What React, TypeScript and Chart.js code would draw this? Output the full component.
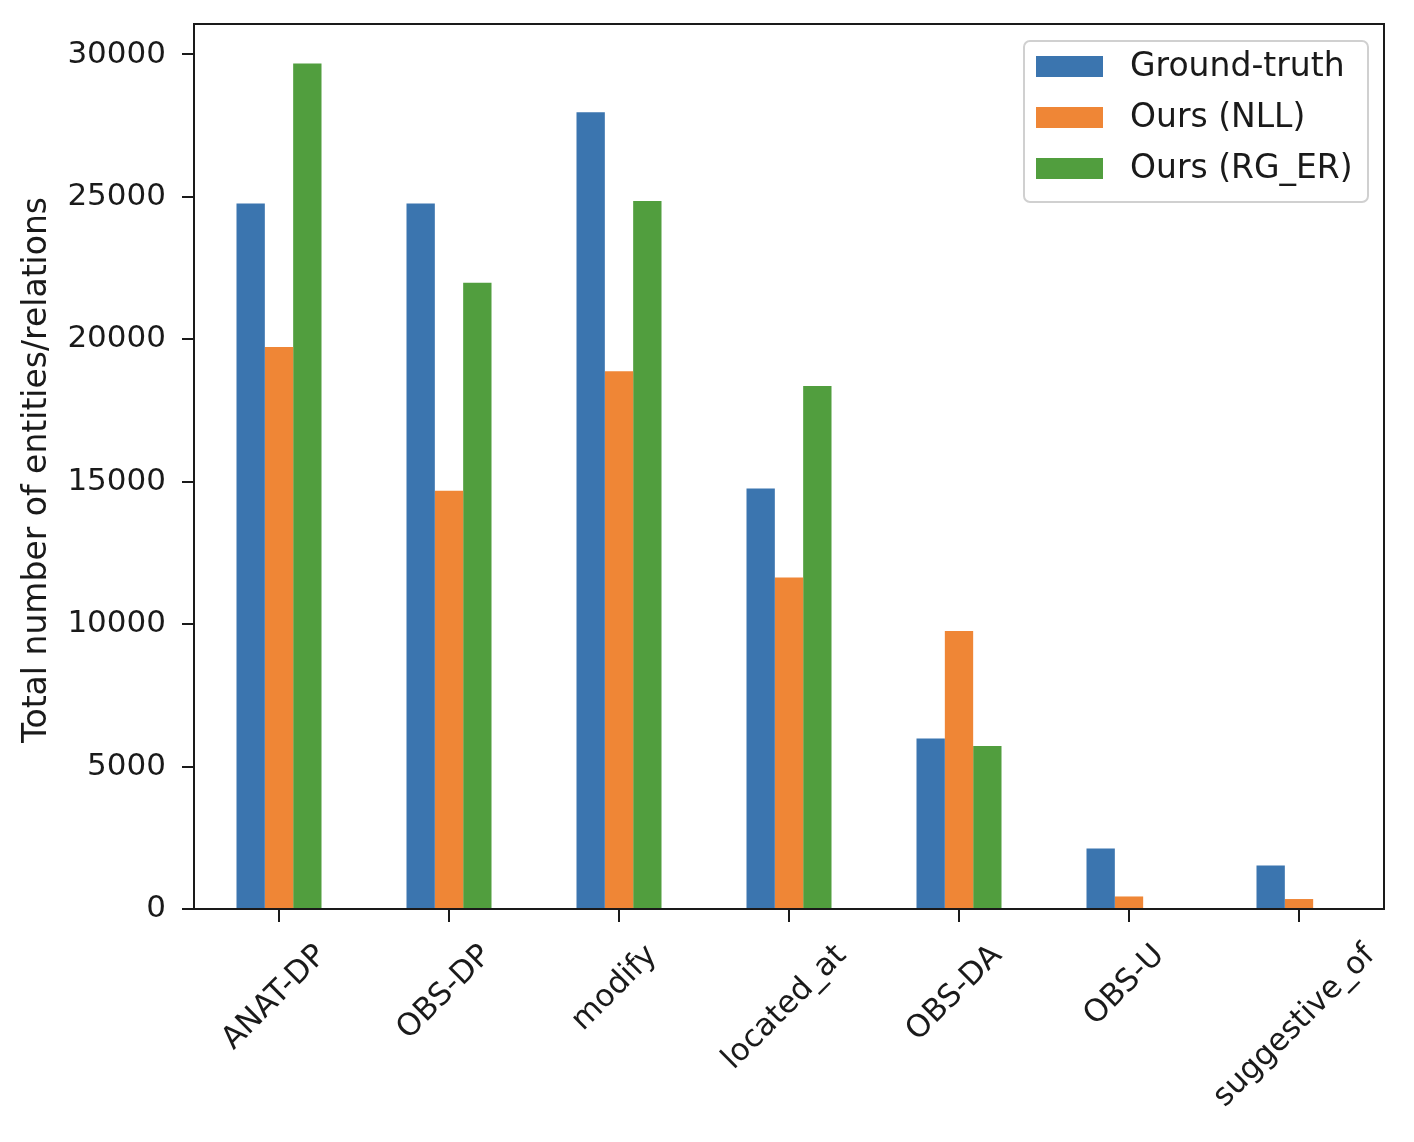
import React, { useEffect, useRef } from 'react';
import { Chart, registerables } from 'chart.js';
import type { Plugin } from 'chart.js';

Chart.register(...registerables);

// values
const categories = ['ANAT-DP', 'OBS-DP', 'modify', 'located_at', 'OBS-DA', 'OBS-U', 'suggestive_of'];
const groundTruth = [24770, 24770, 27970, 14760, 5990, 2120, 1530];
const oursNLL = [19730, 14680, 18880, 11640, 9760, 440, 350];
const oursRGER = [29680, 21990, 24860, 18360, 5720, 0, 0];
const yTicks = [0, 5000, 10000, 15000, 20000, 25000, 30000];
const seriesNames = ['Ground-truth', 'Ours (NLL)', 'Ours (RG_ER)'];
const seriesColors = ['#3b75af', '#ef8636', '#519e3e'];
const yTitle = 'Total number of entities/relations';

const FONT = '"DejaVu Sans", "Liberation Sans", sans-serif';
const TICK_SIZE = 31;
const LABEL_SIZE = 33;
const INK = '#1a1a1a';

// frame, rotated x labels, y title and the legend box (matplotlib look)
const decorPlugin: Plugin<'bar'> = {
  id: 'decorPlugin',
  afterDatasetsDraw: (chart) => {
    const { ctx, chartArea } = chart;
    ctx.save();
    ctx.strokeStyle = INK;
    ctx.lineWidth = 2;
    ctx.strokeRect(chartArea.left, chartArea.top, chartArea.right - chartArea.left, chartArea.bottom - chartArea.top);
    ctx.restore();
  },
  afterDraw: (chart) => {
    const { ctx, chartArea } = chart;
    const xScale = chart.scales.x;
    ctx.save();
    ctx.fillStyle = INK;

    // x tick labels, rotated 45 degrees and centred under the tick
    ctx.font = `${TICK_SIZE}px ${FONT}`;
    categories.forEach((label, i) => {
      const x = xScale.getPixelForTick(i);
      const w = ctx.measureText(label).width;
      const cy = chartArea.bottom + 46 + w * 0.3535;
      ctx.save();
      ctx.translate(x, cy);
      ctx.rotate(-Math.PI / 4);
      ctx.textAlign = 'center';
      ctx.textBaseline = 'alphabetic';
      ctx.fillText(label, 0, 2);
      ctx.restore();
    });

    // y axis title
    ctx.font = `${LABEL_SIZE}px ${FONT}`;
    ctx.save();
    ctx.translate(46, 470);
    ctx.rotate(-Math.PI / 2);
    ctx.textAlign = 'center';
    ctx.textBaseline = 'alphabetic';
    ctx.fillText(yTitle, 0, 0);
    ctx.restore();

    // legend
    const boxX = 1024, boxY = 41, boxW = 344, boxH = 161, r = 6;
    ctx.beginPath();
    ctx.moveTo(boxX + r, boxY);
    ctx.arcTo(boxX + boxW, boxY, boxX + boxW, boxY + boxH, r);
    ctx.arcTo(boxX + boxW, boxY + boxH, boxX, boxY + boxH, r);
    ctx.arcTo(boxX, boxY + boxH, boxX, boxY, r);
    ctx.arcTo(boxX, boxY, boxX + boxW, boxY, r);
    ctx.closePath();
    ctx.fillStyle = 'rgba(255,255,255,0.8)';
    ctx.fill();
    ctx.strokeStyle = '#d0d0d0';
    ctx.lineWidth = 2;
    ctx.stroke();

    seriesNames.forEach((name, i) => {
      const cy = 66.5 + i * 51;
      ctx.fillStyle = seriesColors[i];
      ctx.fillRect(1036, cy - 10.5, 67, 21);
      ctx.fillStyle = INK;
      ctx.textAlign = 'left';
      ctx.textBaseline = 'middle';
      ctx.fillText(name, 1130, cy + 1);
    });
    ctx.restore();
  },
};

const App: React.FC = () => {
  const canvasRef = useRef<HTMLCanvasElement>(null);
  const chartRef = useRef<Chart | null>(null);

  useEffect(() => {
    if (!canvasRef.current) return;
    const ctx = canvasRef.current.getContext('2d');
    if (!ctx) return;

    const series = [groundTruth, oursNLL, oursRGER];

    chartRef.current = new Chart(ctx, {
      type: 'bar',
      data: {
        labels: categories,
        datasets: series.map((values, i) => ({
          label: seriesNames[i],
          data: values,
          backgroundColor: seriesColors[i],
          borderWidth: 0,
          categoryPercentage: 0.5,
          barPercentage: 1.0,
        })),
      },
      options: {
        animation: false,
        responsive: true,
        maintainAspectRatio: false,
        layout: { padding: { top: 24, right: 30, left: 0, bottom: 0 } },
        plugins: {
          legend: { display: false },
          tooltip: { enabled: false },
        },
        scales: {
          x: {
            type: 'category',
            offset: true,
            border: { display: false },
            grid: {
              offset: false,
              drawOnChartArea: false,
              drawTicks: true,
              tickLength: 13,
              color: INK,
              lineWidth: 2,
            },
            ticks: { display: false },
            afterFit: (scale: any) => {
              scale.height = 233;
              scale.paddingLeft = 0;
              scale.paddingRight = 0;
            },
          },
          y: {
            min: 0,
            max: 31070,
            border: { display: false },
            grid: {
              drawOnChartArea: false,
              drawTicks: true,
              tickLength: 12,
              color: INK,
              lineWidth: 2,
            },
            ticks: {
              color: INK,
              padding: 16,
              font: { family: FONT, size: TICK_SIZE },
              callback: (value) => String(value),
            },
            afterBuildTicks: (scale) => {
              scale.ticks = yTicks.map((v) => ({ value: v }));
            },
            afterFit: (scale: any) => {
              scale.width = 194;
              scale.paddingTop = 0;
              scale.paddingBottom = 0;
            },
          },
        },
      },
      plugins: [decorPlugin],
    });

    return () => {
      if (chartRef.current) {
        chartRef.current.destroy();
        chartRef.current = null;
      }
    };
  }, []);

  return (
    <div style={{ position: 'absolute', left: 0, top: 0, width: 1414, height: 1142, background: '#fff' }}>
      <canvas ref={canvasRef} />
    </div>
  );
};

export default App;
